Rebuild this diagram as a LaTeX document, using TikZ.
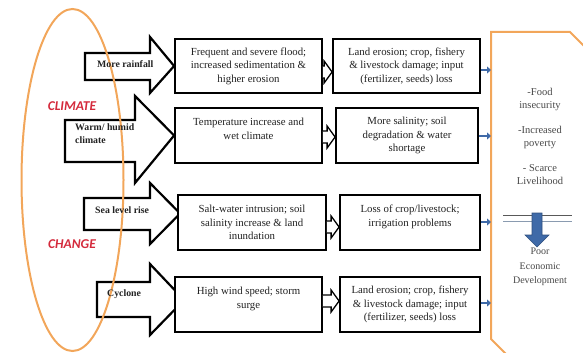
\documentclass[tikz,border=0pt]{standalone}
\usepackage{fontspec}
\setmainfont{Liberation Serif}
\newfontfamily\carl{Carlito}
\usetikzlibrary{arrows.meta,calc,backgrounds}
\definecolor{orng}{HTML}{F2A65A}
\definecolor{redtxt}{HTML}{D42A3C}
\definecolor{blu}{HTML}{3F6AA8}
\definecolor{txt}{HTML}{222222}
\definecolor{rtxt}{HTML}{474747}
\definecolor{lineb}{HTML}{8A9BB0}
\newcommand\hollowarr[3]{%
  \path ($(#1.east)+(0,#3)$) coordinate (hs);
  \path (hs -| #2.west) coordinate (ht);
  \draw[holl] ($(hs)+(0,-6)$) -- ($(ht)+(-8,-6)$) -- ($(ht)+(-8,-11)$) -- (ht)
     -- ($(ht)+(-8,11)$) -- ($(ht)+(-8,6)$) -- ($(hs)+(0,6)$);}
\newcommand\bluearr[2]{%
  \path ($(#1.east)+(0,#2)$) coordinate (bs);
  \draw[bl] (bs) -- (bs -| rl);}
\begin{document}
\begin{tikzpicture}[x=1pt,y=-1pt,
  box/.style={draw=black, line width=1.8pt, fill=white, align=center,
    font=\fontsize{10.8}{13.5}\selectfont, text=txt, inner sep=0pt},
  blk/.style={draw=black, line width=2.2pt, fill=white, line join=miter},
  lbl/.style={font=\bfseries\fontsize{9.8}{13}\selectfont, text=txt, align=left, inner sep=0pt},
  holl/.style={draw=black, line width=1.3pt, fill=white},
  bl/.style={draw=blu, line width=2.5pt, -{Triangle[length=4pt,width=7pt]}},
  rt/.style={text=rtxt, align=center, inner sep=0pt},
  big/.style={font=\carl\bfseries\itshape\fontsize{13.5}{15}\selectfont, text=redtxt, inner sep=0pt}
]
\useasboundingbox (0,0) rectangle (583,353);

% ellipse
\draw[orng, line width=2pt] (72.5,180) ellipse [x radius=51pt, y radius=171pt];
\node[big] (clim) at (72,106) {CLIMATE};
\node[big] (chg) at (72,244) {CHANGE};

% column 1 boxes
\node[box, minimum width=147pt, minimum height=54pt] (b11) at (248.5,66)
  {Frequent and severe flood;\\increased sedimentation \&\\higher erosion};
\node[box, minimum width=147pt, minimum height=55pt] (b12) at (248.5,135.5)
  {Temperature increase and\\wet climate\\\mbox{}};
\node[box, minimum width=148pt, minimum height=55pt] (b13) at (252,222.5)
  {Salt-water intrusion; soil\\salinity increase \& land\\inundation};
\node[box, minimum width=147pt, minimum height=55pt] (b14) at (248.5,304.5)
  {High wind speed; storm\\surge\\\mbox{}};

% column 2 boxes
\node[box, minimum width=147pt, minimum height=54pt] (b21) at (406.5,66)
  {Land erosion; crop, fishery\\\& livestock damage; input\\(fertilizer, seeds) loss};
\node[box, minimum width=142pt, minimum height=55pt] (b22) at (407,135.5)
  {More salinity; soil\\degradation \& water\\shortage};
\node[box, minimum width=140pt, minimum height=55pt] (b23) at (410,222.5)
  {Loss of crop/livestock;\\irrigation problems\\\mbox{}};
\node[box, minimum width=140pt, minimum height=55pt] (b24) at (410,304.5)
  {Land erosion; crop, fishery\\\& livestock damage; input\\(fertilizer, seeds) loss};

% block arrows behind boxes
\begin{scope}[on background layer]
\draw[blk] (85,53) -- (150,53) -- (150,37) -- (b11.west) -- (150,93) -- (150,80) -- (85,80) -- cycle;
\draw[blk] (65,120) -- (135,120) -- (135,96) -- (b12.west) -- (135,183) -- (135,162) -- (65,162) -- cycle;
\draw[blk] (84,198) -- (150,198) -- (150,183) -- ($(b13.west)+(3,-9)$) -- (150,244) -- (150,230) -- (84,230) -- cycle;
\draw[blk] (97,282) -- (150,282) -- (150,264) -- ($(b14.west)+(10,-4.5)$) -- (150,335) -- (150,317) -- (97,317) -- cycle;
\end{scope}

\node[lbl, anchor=west] (l1) at (97,64) {More rainfall};
\node[lbl, anchor=west] (l2) at (75,134) {Warm/ humid\\climate};
\node[lbl, anchor=west] (l3) at (95,210.5) {Sea level rise};
\node[lbl, anchor=west] (l4) at (107,294) {Cyclone};

% hollow arrows between columns
\hollowarr{b11}{b21}{6}
\hollowarr{b12}{b22}{1.5}
\hollowarr{b13}{b23}{4.5}
\hollowarr{b14}{b24}{-3.5}

% right shape
\coordinate (rl) at (491,0);
\begin{scope}
\clip (0,0) rectangle (583,353);
\draw[orng, line width=2pt, line join=miter] (640,102) -- (570,32) -- (491,32) -- (491,339) -- (530,378);
\end{scope}

% blue arrows to right shape
\bluearr{b21}{4}
\bluearr{b22}{0.5}
\bluearr{b23}{-0.5}
\bluearr{b24}{-1.5}

% right texts
\node[rt, font=\fontsize{10.5}{13.5}\selectfont] (r1) at (540,136.5)
  {-Food\\insecurity\\[11pt]-Increased\\poverty\\[11pt]- Scarce\\Livelihood};
\draw[gray!70!black, line width=1pt] (503,215) -- (572,215);
\draw[lineb, line width=1pt] (503,221) -- (572,221);
\draw[fill=blu, draw=blu!75!black, line width=0.6pt] (532,213) -- (542,213) -- (542,235) -- (549,235) -- (537,247) -- (525,235) -- (532,235) -- cycle;
\node[rt, font=\fontsize{10}{14.5}\selectfont] (r2) at (540,267)
  {Poor\\Economic\\Development};
\end{tikzpicture}
\end{document}
